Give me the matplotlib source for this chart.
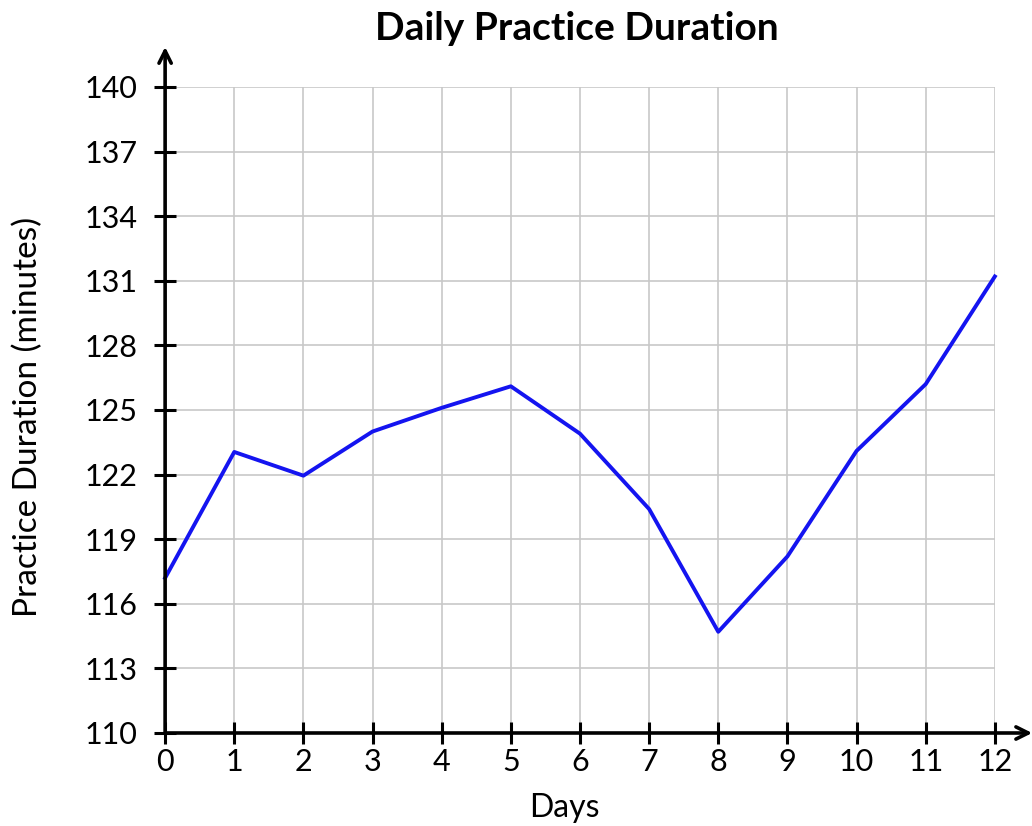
import matplotlib
matplotlib.use("Agg")
import matplotlib.pyplot as plt

days = list(range(13))
duration = [117.2, 123.05, 121.95, 124.0, 125.1, 126.1, 123.9, 120.4, 114.7, 118.2, 123.1, 126.2, 131.2]
y_ticks = [110, 113, 116, 119, 122, 125, 128, 131, 134, 137, 140]
title = "Daily Practice Duration"
xlabel = "Days"
ylabel = "Practice Duration (minutes)"

plt.rcParams['font.family'] = ['Lato', 'DejaVu Sans']

fig = plt.figure(figsize=(10.32, 8.26), dpi=100)
ax = fig.add_axes([0.160, 0.1126, 0.804, 0.7821])

ax.plot(days, duration, color='#1414f0', linewidth=2.8, zorder=3, clip_on=False)

ax.set_xlim(0, 12)
ax.set_ylim(110, 140)
ax.set_xticks(days)
ax.set_yticks(y_ticks)
ax.tick_params(axis='both', direction='inout', length=16, width=2.2, labelsize=22, color='black')
ax.tick_params(axis='x', pad=3)
ax.tick_params(axis='y', pad=12)
ax.grid(True, color='#c8c8c8', linewidth=1.2)
ax.set_axisbelow(True)
for s in ax.spines.values():
    s.set_visible(False)

# axis lines with arrows
ax.annotate('', xy=(1.045, 0), xytext=(0, 0), xycoords='axes fraction',
            arrowprops=dict(arrowstyle='->', color='black', lw=2.6, mutation_scale=22,
                            shrinkA=0, shrinkB=0), annotation_clip=False)
ax.annotate('', xy=(0, 1.062), xytext=(0, 0), xycoords='axes fraction',
            arrowprops=dict(arrowstyle='->', color='black', lw=2.6, mutation_scale=22,
                            shrinkA=0, shrinkB=0), annotation_clip=False)

ax.set_xlabel(xlabel, fontsize=23)
ax.xaxis.label.set_va('center')
ax.xaxis.set_label_coords(0.481, -0.116)
ax.set_ylabel(ylabel, fontsize=24)
ax.yaxis.label.set_va('center')
ax.yaxis.set_label_coords(-0.165, 0.489)
fig.text(0.559, 0.966, title, fontsize=28, fontweight='bold', ha='center', va='center')

fig.savefig('out.png', dpi=100)
